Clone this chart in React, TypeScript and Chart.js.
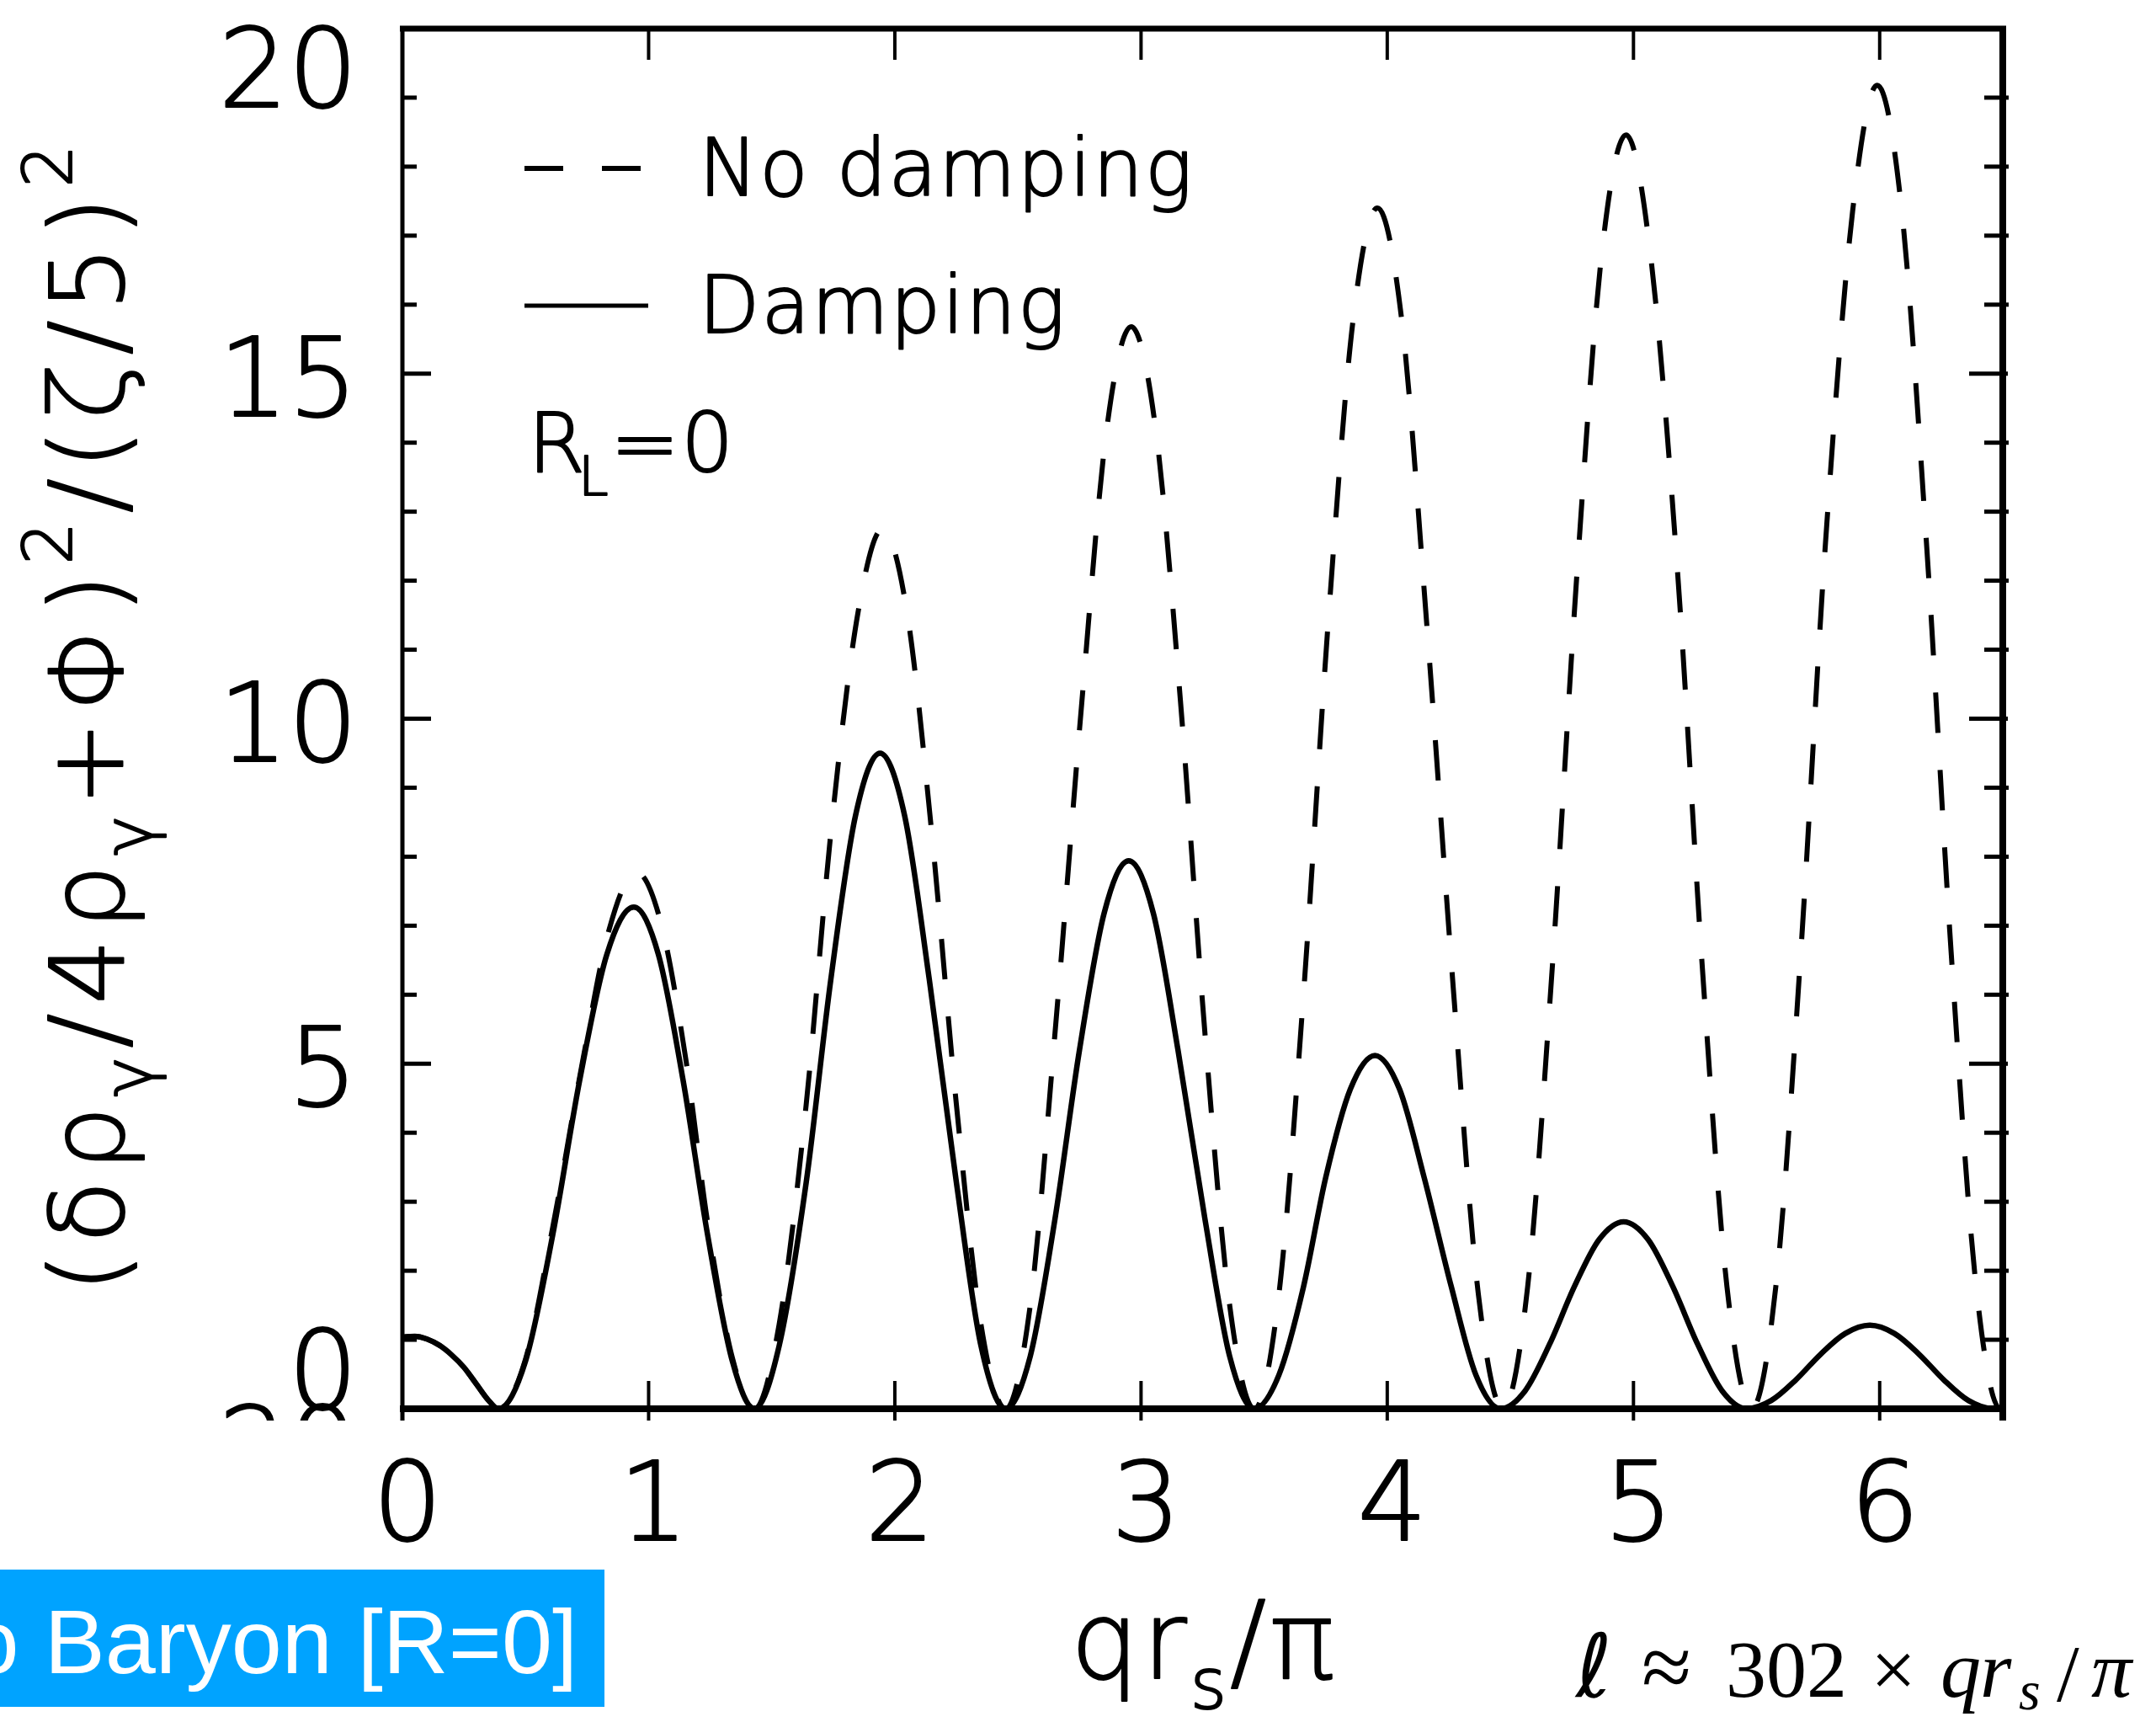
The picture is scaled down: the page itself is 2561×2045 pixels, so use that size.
import React, { useEffect, useRef } from 'react';
import { Chart, registerables } from 'chart.js';

Chart.register(...registerables);

// ---- data ----
const solidX = [0, 0.05, 0.1, 0.15, 0.2, 0.25, 0.3, 0.35, 0.39,
  0.5, 0.61, 0.72, 0.83, 0.94, 1.04, 1.14, 1.24, 1.34, 1.43,
  1.53, 1.64, 1.74, 1.84, 1.94, 2.04, 2.14, 2.25, 2.35, 2.45,
  2.55, 2.65, 2.75, 2.85, 2.95, 3.05, 3.15, 3.26, 3.36, 3.46,
  3.56, 3.66, 3.75, 3.85, 3.95, 4.05, 4.15, 4.26, 4.36, 4.46,
  4.56, 4.66, 4.76, 4.86, 4.96, 5.06, 5.16, 5.26, 5.36, 5.46,
  5.56, 5.66, 5.76, 5.86, 5.96, 6.06, 6.16, 6.26, 6.36, 6.46, 6.5];
const solidY = [1.04, 1.05, 1.01, 0.92, 0.78, 0.6, 0.36, 0.12, 0.0,
  0.69, 2.51, 4.76, 6.58, 7.27, 6.58, 4.76, 2.51, 0.69, 0.0,
  0.91, 3.28, 6.22, 8.59, 9.5, 8.59, 6.22, 3.28, 0.91, 0.0,
  0.76, 2.74, 5.2, 7.18, 7.94, 7.18, 5.2, 2.74, 0.76, 0.0,
  0.49, 1.77, 3.35, 4.63, 5.12, 4.63, 3.35, 1.77, 0.49, 0.0,
  0.26, 0.94, 1.77, 2.45, 2.71, 2.45, 1.77, 0.94, 0.26, 0.0,
  0.12, 0.42, 0.79, 1.09, 1.21, 1.09, 0.79, 0.42, 0.12, 0.0, 0.0];

const dashedX = [0, 0.05, 0.1, 0.15, 0.2, 0.25, 0.3, 0.35, 0.39,
  0.5, 0.61, 0.73, 0.84, 0.95, 1.05, 1.15, 1.24, 1.34, 1.43,
  1.53, 1.64, 1.74, 1.85, 1.95, 2.05, 2.15, 2.25, 2.35, 2.45,
  2.55, 2.65, 2.76, 2.86, 2.96, 3.06, 3.16, 3.26, 3.36, 3.46,
  3.56, 3.66, 3.76, 3.86, 3.96, 4.06, 4.16, 4.27, 4.37, 4.47,
  4.57, 4.67, 4.77, 4.87, 4.97, 5.07, 5.18, 5.28, 5.38, 5.48,
  5.58, 5.68, 5.78, 5.89, 5.99, 6.09, 6.19, 6.29, 6.39, 6.49, 6.5];
const dashedY = [1.04, 1.05, 1.01, 0.92, 0.78, 0.6, 0.36, 0.12, 0.0,
  0.72, 2.62, 5.0, 6.95, 7.78, 7.04, 5.09, 2.69, 0.74, 0.0,
  1.22, 4.41, 8.34, 11.53, 12.75, 11.53, 8.34, 4.41, 1.22, 0.0,
  1.5, 5.42, 10.26, 14.18, 15.68, 14.18, 10.26, 5.42, 1.5, 0.0,
  1.66, 6.01, 11.39, 15.74, 17.4, 15.74, 11.39, 6.01, 1.66, 0.0,
  1.76, 6.38, 12.08, 16.7, 18.46, 16.7, 12.08, 6.38, 1.76, 0.0,
  1.83, 6.63, 12.55, 17.35, 19.18, 17.35, 12.55, 6.63, 1.83, 0.0, 0.02];

const xTickValues = [0, 1, 2, 3, 4, 5, 6];
const yTickValues = [0, 5, 10, 15, 20];
const yMinorValues = [1, 2, 3, 4, 6, 7, 8, 9, 11, 12, 13, 14, 16, 17, 18, 19];
const seriesLabels = ['No damping', 'Damping'];

type Part = { t: string; k?: 'sub' | 'sup' };
const yTitle: Part[] = [
  { t: '(δρ' }, { t: 'γ', k: 'sub' }, { t: '/4ρ' }, { t: 'γ', k: 'sub' },
  { t: '+Φ)' }, { t: '2', k: 'sup' }, { t: '/(ζ/5)' }, { t: '2', k: 'sup' },
];
const xTitle: Part[] = [{ t: 'qr' }, { t: 's', k: 'sub' }, { t: '/π' }];
const boxText = 'No Baryon [R=0]';

const HF = '"DejaVu Sans", sans-serif';
const HW = 200;
const HSTROKE = 2.0;

function setFont(ctx: CanvasRenderingContext2D, size: number) {
  ctx.font = `${HW} ${size}px ${HF}`;
}

function htext(ctx: CanvasRenderingContext2D, s: string, x: number, y: number) {
  ctx.fillText(s, x, y);
  ctx.lineWidth = HSTROKE;
  ctx.lineJoin = 'round';
  ctx.strokeText(s, x, y);
}

function richWidth(ctx: CanvasRenderingContext2D, parts: Part[], size: number, spacing: number) {
  let w = 0;
  for (const p of parts) {
    const s = p.k ? size * 0.65 : size;
    setFont(ctx, s);
    for (const ch of p.t) w += ctx.measureText(ch).width + spacing;
  }
  return w - spacing;
}

function drawRich(ctx: CanvasRenderingContext2D, parts: Part[], x: number, y: number, size: number, spacing: number) {
  let cx = x;
  ctx.textAlign = 'left';
  ctx.textBaseline = 'alphabetic';
  for (const p of parts) {
    const s = p.k ? size * 0.65 : size;
    const dy = p.k === 'sub' ? size * 0.28 : p.k === 'sup' ? -size * 0.5 : 0;
    setFont(ctx, s);
    for (const ch of p.t) {
      htext(ctx, ch, cx, y + dy);
      cx += ctx.measureText(ch).width + spacing;
    }
  }
}

function seg(ctx: CanvasRenderingContext2D, x1: number, y1: number, x2: number, y2: number, w: number) {
  ctx.lineWidth = w;
  ctx.beginPath();
  ctx.moveTo(x1, y1);
  ctx.lineTo(x2, y2);
  ctx.stroke();
}

const decorPlugin = {
  id: 'decor',
  afterDatasetsDraw(chart: any) {
    const { ctx, chartArea: a, scales } = chart;
    const xs = scales.x;
    const ys = scales.y;
    ctx.save();
    ctx.strokeStyle = '#000';
    ctx.fillStyle = '#000';
    ctx.lineCap = 'butt';

    // frame
    seg(ctx, a.left - 3, a.top, a.right + 4, a.top, 7);
    seg(ctx, a.left - 3, a.bottom, a.right + 4, a.bottom, 8);
    seg(ctx, a.left, a.top - 3, a.left, a.bottom + 14, 5);
    seg(ctx, a.right, a.top - 3, a.right, a.bottom + 14, 8);

    // x ticks
    for (const v of xTickValues) {
      const px = xs.getPixelForValue(v);
      if (v > xs.min) {
        seg(ctx, px, a.top, px, a.top + 37, 4);
        seg(ctx, px, a.bottom - 33, px, a.bottom + 14, 4);
      }
    }
    // y ticks
    for (const v of yTickValues) {
      const py = ys.getPixelForValue(v);
      if (v > ys.min && v < ys.max) {
        seg(ctx, a.left, py, a.left + 34, py, 5);
        seg(ctx, a.right - 40, py, a.right + 6, py, 5);
      }
    }
    for (const v of yMinorValues) {
      const py = ys.getPixelForValue(v);
      seg(ctx, a.left, py, a.left + 17, py, 5);
      seg(ctx, a.right - 22, py, a.right + 7, py, 5);
    }

    // y tick labels
    setFont(ctx, 130);
    ctx.textAlign = 'right';
    ctx.textBaseline = 'alphabetic';
    for (const v of yTickValues) {
      const py = ys.getPixelForValue(v);
      const base = Math.min(Math.max(py + 50, a.top + 93), a.bottom);
      htext(ctx, String(v), a.left - 53, base);
    }
    // clipped remnant of a label below the frame
    ctx.save();
    ctx.beginPath();
    ctx.rect(0, a.bottom - 10, a.left - 20, 24);
    ctx.clip();
    htext(ctx, String(ys.max), a.left - 53, a.bottom + 91);
    ctx.restore();

    // x tick labels
    ctx.textAlign = 'center';
    setFont(ctx, 130);
    for (const v of xTickValues) {
      const px = xs.getPixelForValue(v);
      htext(ctx, String(v), px + 6, a.bottom + 156);
    }

    // x title
    const xtSize = 128;
    const xtw = richWidth(ctx, xTitle, xtSize, 4);
    drawRich(ctx, xTitle, (a.left + a.right) / 2 - xtw / 2, a.bottom + 320, xtSize, 4);

    // y title (rotated)
    const ytSize = 122;
    const target = 1363;
    const nat = richWidth(ctx, yTitle, ytSize, 0);
    const nChars = yTitle.reduce((n, p) => n + [...p.t].length, 0);
    const sp = Math.max(0, (target - nat) / (nChars - 1));
    const ytw = richWidth(ctx, yTitle, ytSize, sp);
    ctx.save();
    ctx.translate(146, (a.top + a.bottom) / 2);
    ctx.rotate(-Math.PI / 2);
    drawRich(ctx, yTitle, -ytw / 2, 0, ytSize, sp);
    ctx.restore();

    // in-plot legend
    const lx = a.left + 145;
    ctx.setLineDash([46, 46]);
    seg(ctx, lx, 200, lx + 140, 200, 6);
    ctx.setLineDash([]);
    seg(ctx, lx, 363, lx + 147, 363, 5);
    setFont(ctx, 94);
    ctx.textAlign = 'left';
    (ctx as any).letterSpacing = '2px';
    htext(ctx, seriesLabels[0], a.left + 352, 232);
    htext(ctx, seriesLabels[1], a.left + 352, 395);
    (ctx as any).letterSpacing = '0px';
    setFont(ctx, 98);
    htext(ctx, 'R', lx + 4, 560);
    setFont(ctx, 64);
    htext(ctx, 'L', lx + 64, 588);
    setFont(ctx, 98);
    (ctx as any).letterSpacing = '2px';
    htext(ctx, '=0', lx + 102, 560);
    (ctx as any).letterSpacing = '0px';

    // blue label box
    ctx.fillStyle = '#00A3FF';
    ctx.fillRect(0, 1864, 718, 163);
    ctx.fillStyle = '#fff';
    ctx.font = '400 108px "Liberation Sans", Arial, sans-serif';
    ctx.textAlign = 'right';
    ctx.fillText(boxText, 686, 1987);

    // formula
    ctx.fillStyle = '#000';
    ctx.textAlign = 'left';
    const serif = '"Liberation Serif", "DejaVu Serif", serif';
    const fs = 96;
    const put = (t: string, x: number, y: number, size: number, italic: boolean) => {
      ctx.font = `${italic ? 'italic ' : ''}400 ${size}px ${serif}`;
      ctx.fillText(t, x, y);
    };
    ctx.font = `italic 200 104px "DejaVu Sans", serif`;
    ctx.fillText('ℓ', 1872, 2015);
    put('≈', 1950, 2016, 108, false);
    put('302', 2050, 2015, fs, false);
    put('×', 2222, 2015, fs, false);
    put('q', 2305, 2015, fs, true);
    put('r', 2352, 2015, fs, true);
    put('s', 2398, 2030, 66, true);
    put('/', 2443, 2020, fs, false);
    put('π', 2484, 2015, fs, true);

    ctx.restore();
  },
};

export default function App() {
  const ref = useRef<HTMLCanvasElement | null>(null);
  useEffect(() => {
    const canvas = ref.current!;
    const chart = new Chart(canvas, {
      type: 'line',
      data: {
        datasets: [
          {
            label: seriesLabels[0],
            data: dashedX.map((x, i) => ({ x, y: dashedY[i] })),
            borderColor: '#000',
            borderWidth: 6,
            borderDash: [48, 44],
            pointRadius: 0,
            cubicInterpolationMode: 'monotone',
            fill: false,
          },
          {
            label: seriesLabels[1],
            data: solidX.map((x, i) => ({ x, y: solidY[i] })),
            borderColor: '#000',
            borderWidth: 6.5,
            pointRadius: 0,
            cubicInterpolationMode: 'monotone',
            fill: false,
          },
        ],
      },
      options: {
        responsive: false,
        animation: false,
        devicePixelRatio: 1,
        layout: { padding: { top: 34, right: 182, left: 0, bottom: 0 } },
        plugins: { legend: { display: false }, tooltip: { enabled: false } },
        scales: {
          x: {
            type: 'linear',
            min: 0,
            max: 6.5,
            grid: { display: false },
            border: { display: false },
            ticks: { display: false },
            afterFit: (s: any) => { s.height = 372; },
          },
          y: {
            type: 'linear',
            min: 0,
            max: 20,
            grid: { display: false },
            border: { display: false },
            ticks: { display: false },
            afterFit: (s: any) => { s.width = 478; },
          },
        },
      } as any,
      plugins: [decorPlugin],
    });
    return () => chart.destroy();
  }, []);
  return (
    <div style={{ position: 'fixed', left: 0, top: 0, width: 2561, height: 2045, background: '#fff' }}>
      <canvas ref={ref} width={2561} height={2045} style={{ display: 'block', width: 2561, height: 2045 }} />
    </div>
  );
}
